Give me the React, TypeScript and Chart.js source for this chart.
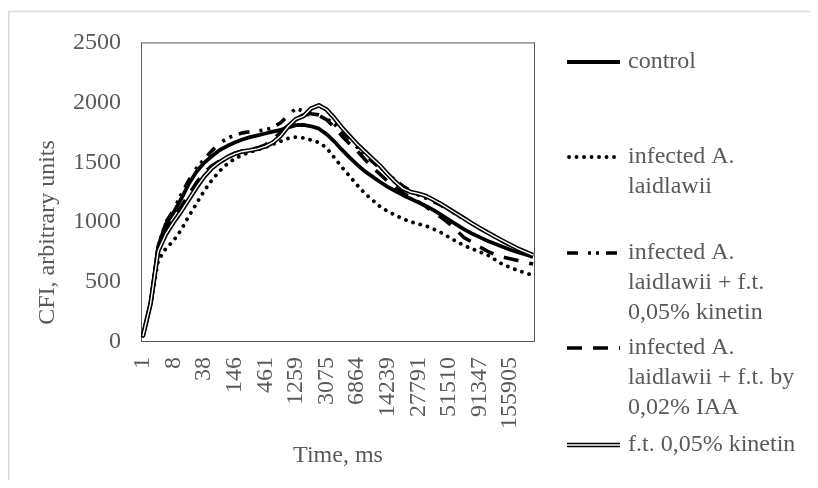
import { useEffect, useRef } from 'react';
import { Chart, registerables } from 'chart.js';

Chart.register(...registerables);

// Time axis: one labelled time every 8 slots, samples every 2 slots
const timeLabels = ['1', '8', '38', '146', '461', '1259', '3075', '6864', '14239', '27791', '51510', '91347', '155905'];
const slotsPerLabel = 8;
const slotCount = 103;
const sampleStep = 2;

// CFI, arbitrary units
const control = [50, 320, 800, 985, 1080, 1195, 1320, 1420, 1495, 1550, 1600, 1635, 1665, 1690, 1710, 1725, 1740, 1755, 1770, 1790, 1810, 1812, 1800, 1780, 1735, 1675, 1605, 1540, 1480, 1425, 1380, 1335, 1295, 1260, 1225, 1195, 1165, 1135, 1100, 1060, 1020, 980, 940, 905, 875, 845, 820, 795, 770, 750, 730, 710];
const infected = [50, 310, 680, 780, 845, 935, 1050, 1155, 1260, 1350, 1425, 1485, 1530, 1560, 1585, 1605, 1625, 1650, 1675, 1700, 1710, 1702, 1685, 1665, 1620, 1540, 1460, 1385, 1310, 1240, 1185, 1130, 1090, 1058, 1028, 1002, 985, 968, 942, 912, 875, 838, 805, 778, 752, 728, 688, 648, 622, 598, 576, 556];
const infectedKinetin = [50, 320, 800, 1000, 1100, 1230, 1350, 1450, 1525, 1595, 1655, 1700, 1725, 1745, 1755, 1760, 1770, 1790, 1830, 1890, 1950, 1925, 1905, 1895, 1865, 1820, 1755, 1690, 1625, 1565, 1505, 1450, 1400, 1350, 1300, 1262, 1228, 1200, 1172, 1140, 1102, 1065, 1025, 988, 952, 915, 878, 842, 808, 772, 740, 705];
const infectedIAA = [50, 320, 780, 950, 1040, 1130, 1230, 1330, 1410, 1470, 1510, 1545, 1575, 1595, 1605, 1620, 1645, 1690, 1750, 1810, 1860, 1895, 1900, 1890, 1855, 1795, 1720, 1655, 1595, 1525, 1455, 1400, 1340, 1290, 1245, 1205, 1170, 1130, 1080, 1040, 990, 930, 870, 835, 795, 758, 730, 710, 695, 680, 665, 650];
const kinetin = [50, 320, 760, 900, 1000, 1090, 1190, 1290, 1380, 1450, 1500, 1540, 1570, 1590, 1600, 1612, 1632, 1665, 1720, 1800, 1860, 1885, 1950, 1975, 1940, 1870, 1790, 1720, 1650, 1590, 1530, 1470, 1400, 1335, 1280, 1252, 1238, 1218, 1185, 1150, 1110, 1070, 1030, 990, 952, 915, 880, 845, 812, 780, 752, 725];

const yTicks = { min: 0, max: 2500, step: 500 };

const legendLines = [
  ['control'],
  ['infected A.', 'laidlawii'],
  ['infected A.', 'laidlawii + f.t.', '0,05% kinetin'],
  ['infected A.', 'laidlawii + f.t. by', '0,02% IAA'],
  ['f.t. 0,05% kinetin'],
];

const FONT = '"Liberation Serif", "Times New Roman", serif';
const TEXT = '#595959';
const INK = '#000000';

type Stroke = { width: number; dash: number[]; cap: CanvasLineCap; color: string };

const styles: Stroke[][] = [
  [{ width: 3.8, dash: [], cap: 'butt', color: INK }],
  [{ width: 3.8, dash: [0.1, 7.4], cap: 'round', color: INK }],
  [{ width: 3.6, dash: [11, 10, 3, 5, 3, 7], cap: 'butt', color: INK }],
  [{ width: 3.6, dash: [15, 11], cap: 'butt', color: INK }],
  [
    { width: 4.6, dash: [], cap: 'butt', color: INK },
    { width: 1.4, dash: [], cap: 'butt', color: '#ffffff' },
  ],
];

const toPoints = (values: number[]) => values.map((y, i) => ({ x: i * sampleStep, y }));

const lineDataset = (label: string, values: number[], s: Stroke, order: number) => ({
  label,
  data: toPoints(values),
  borderColor: s.color,
  borderWidth: s.width,
  borderDash: s.dash,
  borderCapStyle: s.cap,
  borderJoinStyle: 'round' as CanvasLineJoin,
  pointRadius: 0,
  pointHoverRadius: 0,
  tension: 0,
  fill: false,
  order,
});

const decorations = {
  id: 'decorations',
  beforeDatasetsDraw(chart: any) {
    const { ctx, chartArea: a } = chart;
    ctx.save();
    ctx.strokeStyle = '#595959';
    ctx.lineWidth = 1;
    ctx.strokeRect(a.left + 0.5, a.top + 0.5, a.right - a.left - 1, a.bottom - a.top - 1);
    ctx.restore();
  },
  afterDraw(chart: any) {
    const { ctx, width, height, chartArea: a } = chart;
    ctx.save();

    // outer chart border
    ctx.strokeStyle = '#d9d9d9';
    ctx.lineWidth = 1.6;
    ctx.beginPath();
    ctx.moveTo(0.8, height);
    ctx.lineTo(0.8, 3.5);
    ctx.lineTo(width, 3.5);
    ctx.stroke();

    // axis titles
    ctx.fillStyle = TEXT;
    ctx.font = `24px ${FONT}`;
    ctx.textAlign = 'center';
    ctx.textBaseline = 'alphabetic';
    ctx.fillText('Time, ms', (a.left + a.right) / 2, 454);
    ctx.save();
    ctx.translate(46, 224.5);
    ctx.rotate(-Math.PI / 2);
    ctx.fillText('CFI, arbitrary units', 0, 0);
    ctx.restore();

    // legend
    const rows = [54, 149, 245, 340, 437];
    const x0 = a.right + 32;
    const x1 = a.right + 85;
    const tx = a.right + 93;
    legendLines.forEach((lines, k) => {
      const y = rows[k];
      styles[k].forEach((s) => {
        ctx.strokeStyle = s.color;
        ctx.lineWidth = s.width;
        ctx.lineCap = s.cap;
        ctx.setLineDash(s.dash);
        ctx.beginPath();
        ctx.moveTo(x0 + (s.cap === 'round' ? 2 : 0), y);
        ctx.lineTo(x1, y);
        ctx.stroke();
      });
      ctx.setLineDash([]);
      ctx.fillStyle = TEXT;
      ctx.textAlign = 'left';
      ctx.textBaseline = 'middle';
      lines.forEach((t, j) => ctx.fillText(t, tx, y + j * 30));
    });
    ctx.restore();
  },
};

export default function App() {
  const ref = useRef<HTMLCanvasElement>(null);

  useEffect(() => {
    if (!ref.current) return;
    const tickFont = { family: FONT, size: 24 };
    const chart = new Chart(ref.current, {
      type: 'line',
      data: {
        datasets: [
          lineDataset('f.t. 0,05% kinetin', kinetin, styles[4][1], 0),
          lineDataset('f.t. 0,05% kinetin', kinetin, styles[4][0], 1),
          lineDataset('infected A. laidlawii + f.t. by 0,02% IAA', infectedIAA, styles[3][0], 2),
          lineDataset('infected A. laidlawii + f.t. 0,05% kinetin', infectedKinetin, styles[2][0], 3),
          lineDataset('infected A. laidlawii', infected, styles[1][0], 4),
          lineDataset('control', control, styles[0][0], 5),
        ] as any,
      },
      options: {
        responsive: false,
        animation: false,
        events: [],
        layout: { padding: { top: 27, right: 275, bottom: 0, left: 0 } },
        plugins: { legend: { display: false }, tooltip: { enabled: false } },
        scales: {
          x: {
            type: 'linear',
            min: -0.5,
            max: slotCount - 0.5,
            grid: { display: false, drawTicks: false },
            border: { display: false },
            afterBuildTicks: (scale: any) => {
              scale.ticks = timeLabels.map((_, k) => ({ value: k * slotsPerLabel }));
            },
            afterFit: (scale: any) => {
              scale.height = 138;
            },
            ticks: {
              autoSkip: false,
              minRotation: 90,
              maxRotation: 90,
              padding: 15,
              color: TEXT,
              font: tickFont,
              callback: (v: any) => timeLabels[Math.round(Number(v) / slotsPerLabel)] ?? '',
            },
          },
          y: {
            min: yTicks.min,
            max: yTicks.max,
            grid: { display: false, drawTicks: false },
            border: { display: false },
            afterFit: (scale: any) => {
              scale.width = 133;
            },
            ticks: {
              stepSize: yTicks.step,
              padding: 20,
              color: TEXT,
              font: tickFont,
              callback: (v: any) => String(v),
            },
          },
        },
      } as any,
      plugins: [decorations],
    });
    return () => chart.destroy();
  }, []);

  return (
    <div style={{ width: 802, height: 472 }}>
      <canvas ref={ref} width={802} height={472} style={{ display: 'block' }} />
    </div>
  );
}
